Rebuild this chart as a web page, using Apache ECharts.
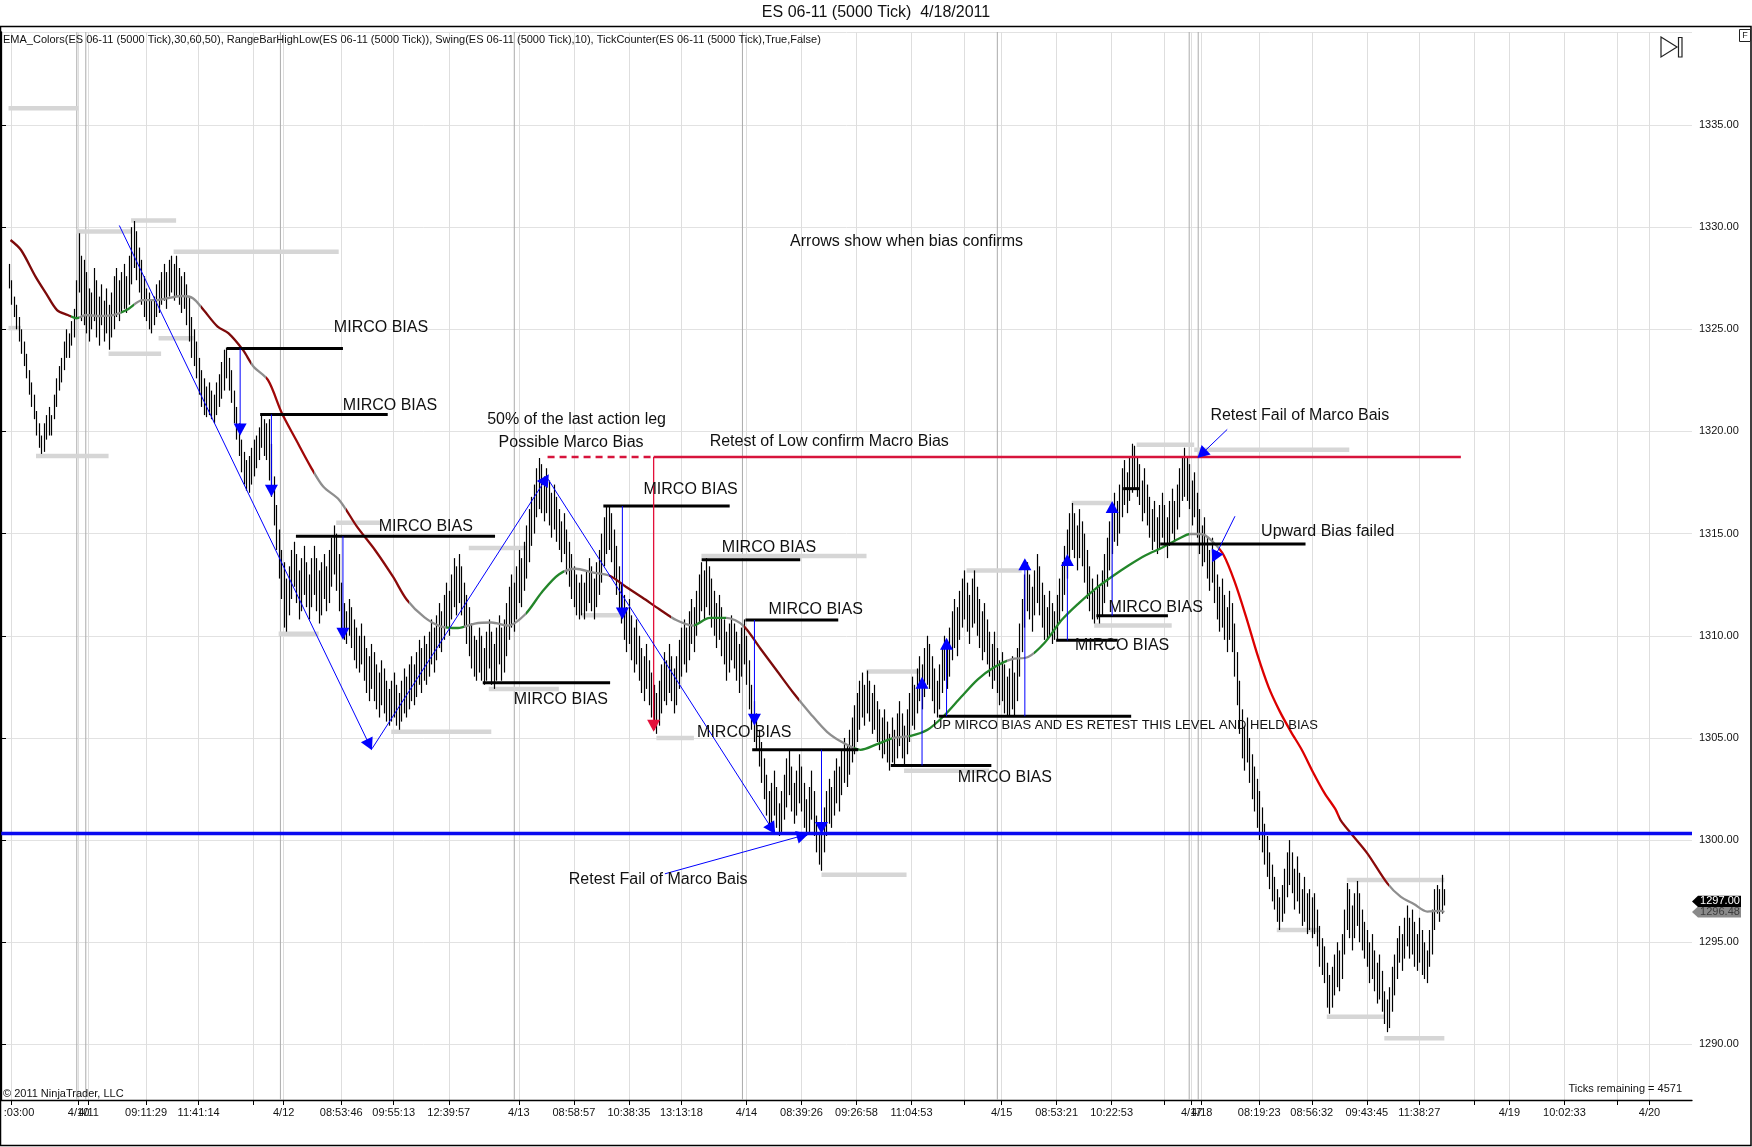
<!DOCTYPE html>
<html><head><meta charset="utf-8">
<script src="https://cdn.jsdelivr.net/npm/echarts@6/dist/echarts.min.js"></script>
<style>html,body{margin:0;padding:0;background:#fff}#c{width:1752px;height:1147px}</style>
</head><body><div id="c"></div>
<script>
const FONT = '"Liberation Sans", Arial, sans-serif';
const slotCount = 677;
const firstSlot = 3;
const yMin = 1287.28, yMax = 1339.55;
const lastClose = 1297.00;

const tickSlots = [4,31,35,58,79,101,113,136,157,179,207,229,251,272,298,320,342,364,385,400,422,444,465,476,480,503,524,546,567,589,603,625,646,659];
const tickLabels = [':03:00','4/10','4/11','09:11:29','11:41:14','','4/12','08:53:46','09:55:13','12:39:57','4/13','08:58:57','10:38:35','13:13:18','4/14','08:39:26','09:26:58','11:04:53','','4/15','08:53:21','10:22:53','','4/17','4/18','08:19:23','08:56:32','09:43:45','11:38:27','','4/19','10:02:33','','4/20'];
const sessionSlots = [30.3,33.9,111.7,205.2,296.4,398.3,475,478.6];

const highs = [
1328.2,1327.4,1326.6,1326.2,1325.6,1325.0,1324.4,1323.8,1323.0,1322.4,
1321.8,1321.0,1320.4,1319.8,1320.4,1320.8,1321.2,1320.8,1321.8,1322.6,
1323.2,1323.6,1324.4,1325.0,1324.8,1325.4,1326.0,1327.4,1329.7,1328.6,
1328.4,1327.8,1327.0,1326.8,1328.0,1327.4,1326.6,1327.2,1326.4,1327.0,
1326.2,1326.8,1327.6,1328.0,1327.4,1327.8,1328.2,1327.6,1328.6,1330.0,
1330.3,1329.8,1329.0,1328.4,1327.6,1327.0,1326.8,1326.4,1326.6,1327.2,
1327.4,1327.8,1328.2,1327.8,1328.4,1328.6,1328.2,1328.6,1328.0,1327.6,
1327.8,1327.2,1326.6,1325.6,1325.0,1324.4,1323.6,1323.0,1322.6,1322.2,
1322.4,1322.0,1321.8,1322.4,1322.8,1323.4,1324.0,1324.1,1323.6,1323.0,
1322.0,1321.2,1320.4,1319.6,1319.0,1318.6,1318.8,1319.2,1319.6,1319.8,
1320.2,1320.8,1320.6,1320.4,1320.6,1319.4,1317.8,1316.4,1315.2,1314.2,
1313.6,1312.8,1313.4,1314.2,1314.6,1314.0,1313.2,1313.8,1314.4,1313.6,
1313.0,1313.8,1314.4,1313.8,1313.2,1313.6,1314.0,1313.4,1314.2,1314.8,
1315.4,1315.0,1314.0,1312.6,1311.6,1311.2,1311.8,1311.4,1310.8,1310.4,
1310.0,1310.6,1310.0,1309.4,1309.0,1309.6,1309.2,1308.6,1308.2,1308.8,
1308.4,1307.8,1307.4,1307.8,1308.2,1307.6,1307.2,1307.8,1308.4,1308.0,
1308.6,1309.0,1308.6,1309.2,1309.8,1309.4,1310.0,1309.6,1310.2,1310.8,
1310.4,1311.0,1311.6,1311.2,1312.0,1312.6,1312.2,1313.0,1313.8,1313.4,
1314.0,1313.4,1312.6,1312.0,1311.4,1310.6,1310.0,1309.8,1310.4,1310.0,
1309.4,1310.2,1310.8,1310.2,1309.6,1310.4,1311.0,1310.4,1310.8,1311.6,
1312.4,1313.0,1312.6,1313.4,1314.2,1313.8,1314.6,1315.4,1316.2,1316.8,
1317.4,1318.2,1318.7,1318.4,1317.8,1318.2,1317.6,1317.0,1317.4,1316.8,
1316.2,1315.6,1316.0,1315.2,1314.6,1314.0,1313.4,1313.0,1312.6,1313.0,
1312.6,1313.2,1313.8,1313.4,1312.8,1313.6,1314.2,1315.0,1315.8,1316.3,
1316.4,1316.0,1315.2,1314.4,1313.4,1312.6,1312.0,1311.4,1311.8,1311.0,
1310.4,1310.8,1310.0,1309.4,1309.0,1309.6,1308.8,1308.2,1307.6,1307.2,
1307.8,1308.6,1309.2,1308.8,1309.6,1309.0,1308.4,1309.0,1309.8,1310.4,
1310.8,1310.4,1311.2,1311.8,1311.4,1312.2,1313.0,1313.6,1313.2,1313.8,
1313.4,1312.8,1312.2,1311.6,1312.0,1311.4,1310.8,1310.2,1310.6,1311.0,
1310.6,1310.2,1309.6,1310.4,1310.8,1310.0,1308.8,1307.6,1306.8,1306.2,
1305.4,1304.8,1304.0,1303.2,1302.4,1302.8,1303.4,1302.6,1301.8,1302.4,
1303.2,1304.0,1304.4,1303.6,1302.8,1303.4,1304.2,1303.6,1302.8,1302.0,
1302.6,1303.4,1302.4,1301.2,1300.4,1300.8,1301.6,1302.4,1303.0,1302.6,
1303.4,1304.0,1303.6,1304.4,1305.0,1304.6,1305.4,1306.0,1306.6,1307.2,
1307.8,1308.2,1307.6,1308.3,1307.8,1307.2,1307.6,1306.8,1306.4,1306.0,
1306.4,1305.8,1305.2,1306.0,1305.4,1306.2,1306.8,1306.2,1305.6,1306.4,
1307.2,1308.0,1307.6,1308.4,1309.0,1308.6,1309.4,1310.0,1309.6,1309.0,
1308.4,1307.8,1308.6,1309.4,1310.0,1309.6,1310.4,1311.2,1311.8,1311.4,
1312.2,1312.8,1313.2,1312.6,1312.0,1312.8,1313.2,1312.4,1311.8,1311.2,
1311.6,1310.8,1310.2,1309.6,1310.2,1309.4,1308.8,1309.2,1308.6,1308.0,
1308.4,1309.0,1308.2,1309.4,1310.6,1311.8,1313.0,1313.6,1313.0,1312.4,
1313.2,1314.0,1313.4,1312.6,1312.0,1311.4,1312.2,1311.6,1311.2,1312.0,
1312.8,1313.6,1314.4,1315.2,1316.0,1316.5,1316.0,1315.4,1316.2,1315.6,
1315.0,1314.2,1313.4,1312.8,1312.2,1313.0,1312.4,1313.2,1314.0,1314.8,
1315.6,1316.4,1317.0,1316.6,1317.4,1318.2,1318.6,1318.0,1318.8,1319.4,
1319.3,1318.8,1318.4,1317.6,1318.2,1317.4,1316.8,1316.2,1316.6,1315.8,
1316.4,1317.0,1316.4,1315.8,1316.6,1317.2,1316.6,1317.4,1318.2,1318.8,
1319.2,1318.8,1318.4,1317.6,1318.0,1317.0,1316.2,1315.4,1315.8,1314.8,
1314.2,1314.8,1313.8,1313.0,1312.4,1312.8,1312.0,1311.4,1312.2,1311.6,
1310.6,1309.2,1307.8,1306.4,1305.6,1306.0,1305.0,1304.2,1303.6,1303.0,
1302.4,1301.6,1300.8,1300.2,1299.4,1298.8,1298.2,1297.6,1297.2,1297.8,
1298.6,1299.4,1300.0,1299.4,1298.6,1299.2,1298.4,1297.6,1298.2,1297.4,
1297.6,1297.2,1297.4,1296.6,1295.8,1295.2,1294.8,1294.0,1293.4,1293.8,
1294.4,1295.0,1294.6,1295.4,1296.6,1297.9,1297.6,1296.8,1297.4,1298.0,
1297.4,1296.6,1296.0,1295.6,1295.0,1295.4,1294.6,1294.0,1294.4,1293.6,
1292.6,1292.2,1292.8,1293.8,1294.4,1295.2,1295.8,1295.4,1296.2,1296.8,
1296.2,1296.6,1296.0,1295.4,1296.2,1295.6,1295.0,1294.6,1295.6,1296.6,
1297.6,1297.8,1297.6,1298.3,1297.6];
const lows = [
1327.0,1326.2,1325.6,1325.0,1324.4,1323.8,1323.2,1322.6,1321.8,1321.2,
1320.6,1319.8,1319.2,1318.9,1319.0,1319.6,1319.8,1319.8,1320.6,1321.2,
1322.0,1322.4,1323.0,1323.6,1323.6,1324.2,1324.6,1325.6,1326.8,1325.4,
1325.2,1324.8,1324.4,1325.0,1325.4,1324.6,1324.2,1325.2,1324.4,1324.8,
1324.0,1324.6,1325.0,1325.6,1325.4,1325.8,1326.0,1325.8,1326.2,1327.2,
1328.0,1327.4,1326.8,1326.2,1325.6,1325.4,1325.0,1324.8,1325.2,1325.6,
1325.8,1326.2,1326.4,1326.0,1326.6,1326.8,1326.4,1326.6,1326.2,1325.8,
1326.0,1325.2,1324.4,1323.6,1323.2,1322.6,1321.8,1321.2,1320.8,1320.7,
1320.8,1320.6,1320.4,1320.8,1321.2,1321.6,1322.0,1322.6,1322.0,1321.4,
1320.4,1319.6,1318.8,1318.0,1317.4,1317.1,1317.0,1317.4,1317.8,1318.2,
1318.6,1319.2,1318.8,1318.6,1317.6,1316.8,1315.4,1314.2,1312.8,1311.8,
1310.4,1310.2,1311.0,1311.8,1312.4,1311.6,1310.8,1311.2,1312.0,1311.4,
1310.8,1311.4,1312.0,1311.2,1310.6,1311.0,1311.8,1311.2,1311.6,1312.4,
1313.0,1312.2,1311.2,1310.2,1309.8,1309.6,1310.0,1309.4,1308.8,1308.4,
1308.2,1308.6,1307.8,1307.2,1306.8,1307.4,1306.8,1306.4,1306.0,1306.6,
1306.2,1305.8,1305.6,1305.8,1306.0,1305.6,1305.4,1305.8,1306.2,1306.0,
1306.4,1306.8,1306.6,1307.0,1307.6,1307.2,1307.8,1307.6,1308.0,1308.6,
1308.2,1308.8,1309.4,1309.2,1309.8,1310.4,1310.0,1310.8,1311.4,1311.0,
1311.6,1311.0,1310.4,1309.6,1309.0,1308.4,1308.0,1307.8,1308.2,1307.8,
1307.6,1307.8,1308.4,1307.6,1307.4,1307.8,1308.6,1307.8,1308.2,1309.0,
1309.8,1310.4,1310.2,1310.8,1311.6,1311.4,1312.2,1312.8,1313.6,1314.4,
1315.0,1315.8,1316.2,1316.0,1315.6,1316.0,1315.4,1314.8,1315.2,1314.6,
1314.2,1313.6,1314.0,1313.0,1312.4,1311.8,1311.4,1311.0,1310.8,1311.0,
1310.8,1311.2,1311.6,1311.2,1310.8,1311.4,1312.0,1312.6,1313.4,1314.0,
1314.2,1313.6,1312.8,1312.0,1311.2,1310.6,1309.8,1309.2,1309.6,1308.8,
1308.2,1308.6,1307.8,1307.2,1306.8,1307.4,1306.6,1306.0,1305.4,1305.2,
1305.6,1306.2,1306.8,1306.6,1307.2,1306.8,1306.2,1306.6,1307.4,1308.0,
1308.6,1308.2,1308.8,1309.6,1309.2,1310.0,1310.6,1311.2,1310.8,1311.4,
1311.0,1310.4,1310.0,1309.4,1309.8,1309.0,1308.6,1307.8,1308.2,1308.8,
1308.4,1307.8,1307.2,1308.0,1308.6,1307.6,1306.4,1305.4,1304.8,1304.4,
1303.6,1302.8,1302.0,1301.2,1300.6,1300.8,1301.2,1300.6,1300.2,1300.4,
1301.0,1301.6,1302.2,1301.4,1300.8,1301.2,1301.8,1301.4,1300.6,1300.2,
1300.4,1301.0,1300.2,1299.4,1298.8,1298.5,1299.4,1300.2,1300.8,1300.6,
1301.2,1301.8,1301.4,1302.2,1302.8,1302.6,1303.2,1303.8,1304.2,1304.8,
1305.4,1306.0,1305.6,1306.2,1305.8,1305.2,1305.4,1304.8,1304.4,1304.0,
1304.2,1303.8,1303.4,1303.8,1303.6,1304.0,1304.6,1304.0,1303.6,1304.2,
1304.8,1305.6,1305.4,1306.2,1306.8,1306.4,1307.0,1307.6,1307.4,1306.8,
1306.2,1306.0,1306.4,1307.2,1307.8,1307.4,1308.0,1308.8,1309.4,1309.0,
1309.8,1310.4,1310.8,1310.2,1309.6,1310.4,1310.6,1310.0,1309.4,1308.8,
1309.2,1308.6,1308.0,1307.4,1307.8,1307.2,1306.6,1306.8,1306.2,1306.1,
1306.1,1306.4,1306.1,1306.8,1308.0,1309.2,1310.4,1311.2,1310.8,1310.2,
1311.0,1311.6,1311.0,1310.4,1309.8,1309.8,1310.0,1309.6,1309.8,1309.8,
1310.6,1311.2,1312.0,1312.8,1313.6,1314.2,1313.8,1313.2,1313.8,1313.4,
1312.6,1311.8,1311.2,1310.8,1310.6,1310.8,1310.6,1311.0,1311.6,1312.4,
1313.2,1314.0,1314.6,1314.4,1315.0,1315.8,1316.4,1316.0,1316.6,1317.0,
1317.2,1316.8,1316.4,1315.6,1316.0,1315.4,1314.8,1314.2,1314.6,1314.0,
1314.2,1314.8,1314.4,1313.8,1314.4,1315.0,1314.6,1315.2,1315.8,1316.6,
1316.8,1316.6,1316.2,1315.4,1315.8,1314.8,1314.0,1313.4,1313.6,1312.8,
1312.2,1312.6,1311.6,1310.8,1310.2,1310.4,1309.8,1309.2,1309.8,1309.2,
1308.0,1306.6,1305.2,1304.0,1303.4,1303.8,1302.8,1302.0,1301.4,1300.6,
1300.0,1299.4,1298.8,1298.2,1297.6,1297.0,1296.6,1296.0,1295.6,1296.0,
1296.4,1297.2,1297.8,1297.4,1296.6,1297.0,1296.4,1295.8,1296.0,1295.4,
1295.6,1295.2,1295.4,1294.8,1293.8,1293.4,1293.0,1291.8,1291.5,1291.8,
1292.4,1292.8,1292.6,1293.2,1294.4,1295.6,1295.2,1294.6,1295.2,1295.8,
1295.0,1294.6,1294.2,1293.8,1293.0,1293.2,1292.6,1292.0,1292.2,1291.6,
1291.0,1290.6,1290.8,1291.6,1292.4,1293.2,1294.0,1293.6,1294.2,1294.8,
1294.2,1294.4,1293.8,1293.6,1294.0,1293.4,1293.2,1293.0,1293.8,1294.4,
1295.6,1296.4,1296.0,1296.4,1296.8];

const emaSlots = [3.8,8,13.8,18,22.4,26.7,30.2,33.8,39.5,45.2,50.2,56.7,62.4,66.7,72.4,76.7,81,86.6,91,96.7,101,106.7,112.3,118,123.8,128.8,135.2,142.3,149.5,156.7,162.3,
169.3,176,182.7,189.4,196.1,202.8,209.5,216.2,223,229.7,236.4,243.1,249.8,256.5,263.2,269.9,276.6,283.3,290,296.7,303.4,310.1,316.8,323.5,330.2,336.9,343.6,350.3,357,363.7,
370.4,377.1,383.8,390.5,397.2,403.9,410.6,417.3,424,430.8,437.5,444.2,450.9,457.6,464.3,471,475.4,479.9,484.4,488.8,493.3,497.8,502.2,506.7,511.2,515.7,520.1,524.6,529.1,533.5,
535.5,540.2,546.2,554.2,559.5,564.8,570.2,575.5,577];
const emaValues = [1329.37,1328.88,1327.58,1326.76,1325.94,1325.7,1325.54,1325.7,1325.65,1325.7,1325.94,1326.43,1326.43,1326.52,1326.63,1326.52,1325.94,1325.13,1324.8,1323.99,1323.17,1322.52,1320.89,1319.58,1318.27,1317.3,1316.65,1315.34,1314.2,1312.89,1311.75,
1310.9,1310.45,1310.38,1310.6,1310.65,1310.5,1311.04,1312.13,1313.0,1313.28,1313.1,1312.95,1312.4,1311.86,1311.3,1310.77,1310.5,1310.88,1310.88,1310.5,1309.4,1308.3,1307.2,1306.2,1305.3,1304.75,1304.42,1304.7,1305.0,1305.1,
1305.4,1306.1,1307.0,1307.87,1308.47,1308.85,1308.96,1309.67,1310.77,1311.59,1312.3,1312.9,1313.45,1313.94,1314.32,1314.76,1314.98,1314.98,1314.6,1313.94,1312.6,1310.9,1309.1,1307.5,1306.3,1305.3,1304.4,1303.3,1302.3,1301.5,
1300.98,1300.25,1299.35,1297.88,1297.23,1296.87,1296.5,1296.54,1296.48];
const emaColorStarts = [3,28,31,48,53,80,100,106,125,138,163,178,185,210,225,243,268,277,290,297,319,341,356,363,402,413,475,487,535,555];
const emaColors = ['#7d0a0a','#23862a','#8e8e8e','#23862a','#8e8e8e','#7d0a0a','#8e8e8e','#a00808','#8e8e8e','#8b0a0a','#8e8e8e','#23862a','#8e8e8e','#23862a','#8e8e8e','#7d0a0a','#8e8e8e','#23862a','#8e8e8e','#7d0a0a','#8e8e8e','#23862a','#8e8e8e','#23862a','#8e8e8e','#23862a','#8e8e8e','#dc0000','#8b0a0a','#8e8e8e'];

const swings = [[3,31,1335.82],[3,8,1325.06],[14,43,1318.8],[30,52,1329.78],[52,70,1330.32],[69,135,1328.8],[43,64,1323.8],[63,77,1324.56],[134,152,1315.53],[111,127,1310.1],[156,196,1305.3],[187,210,1314.3],[195,223,1307.4],[232,250,1311.0],[262,277,1305.0],[280,346,1313.9],[328,362,1298.3],[346,367,1308.25],[361,395,1303.4],[386,408,1313.2],[428,444,1316.5],[437,468,1310.5],[454,477,1319.35],[477,539,1319.1],[510,527,1295.6],[530,553,1291.35],[538,577,1298.05],[553,577,1290.3]];

const blackLines = [[90.2,136.7,1324.06],[103.6,154.6,1320.83],[117.9,197.5,1314.87],[192.6,243.5,1307.7],[240.8,291.3,1316.35],[280.1,319.5,1313.72],[297.6,334.7,1310.77],[300.3,342.7,1304.42],[355.7,395.9,1303.65],[374.9,451.8,1306.06],[421.8,446.4,1309.78],[437.9,466.5,1310.98],[448.6,455.3,1317.2],[463.4,521.5,1314.49]];

const blueArrows = [[47.3,1330.08,148.3,1304.4],[148.3,1304.47,219,1317.9],[218.5,1317.7,309.5,1300.3],[265.4,1298.35,322.8,1300.3],[490.2,1320.1,478.3,1318.7],[493.3,1315.85,484.2,1313.6],
[95.6,1324.06,95.6,1319.8],[108.1,1320.83,108.1,1316.8],[136.7,1314.87,136.7,1309.8],[248.4,1316.35,248.4,1310.8],[301.2,1310.77,301.2,1305.6],[328.0,1304.42,328.0,1300.3],
[368.2,1303.65,368.2,1308.0],[378,1306.06,378,1309.9],[409.3,1306.06,409.3,1313.8],[426.3,1309.78,426.3,1314.0],[444.2,1310.98,444.2,1316.6]];

const redArrow = [[260.9,1318.75,260.9,1305.3]];
const redLine = [[260.9,1318.75,583.6,1318.75]];
const redDashed = [[218.5,1318.75,260.9,1318.75]];
const blueLevel = [[0,1300.32,676,1300.32]];

const noteTexts = ['Arrows show when bias confirms','MIRCO BIAS','MIRCO BIAS','MIRCO BIAS','50% of the last action leg','Possible Marco Bias','Retest of Low confirm Macro Bias','MIRCO BIAS','MIRCO BIAS','MIRCO BIAS','MIRCO BIAS','MIRCO BIAS','Retest Fail of Marco Bais','UP MIRCO BIAS AND ES RETEST THIS LEVEL AND HELD BIAS','MIRCO BIAS','MIRCO BIAS','MIRCO BIAS','Retest Fail of Marco Bais','Upward Bias failed'];
const noteSlots = [362,151.9,155.5,169.8,230.1,227.9,331.1,275.7,307,325.7,223.8,297.1,262.7,449.5,401.3,461.6,448.2,519.2,530.4];
const notePrices = [1329.3,1325.1,1321.27,1315.36,1320.6,1319.46,1319.5,1317.17,1314.32,1311.3,1306.88,1305.24,1298.07,1305.62,1303.05,1311.37,1309.5,1320.78,1315.1];
const noteSizes = [16,16,16,16,16,16,16,16,16,16,16,16,16,13,16,16,16,16,16];

// ---------- build ----------
const cats = Array.from({length: slotCount}, (_, i) => String(i));
const labelMap = {}; tickSlots.forEach((s, i) => { labelMap[s] = tickLabels[i]; });
const tickSet = new Set(tickSlots);
const barData = highs.map((h, i) => [firstSlot + i, h, lows[i]]);
const emaPts = emaSlots.map((s, i) => [s, emaValues[i]]);
const pieces = emaColorStarts.map((s, i) => ({gte: s, lt: (i + 1 < emaColorStarts.length ? emaColorStarts[i + 1] : 1000), color: emaColors[i]}));

function arrowPts(a, b, len, half) {
  const dx = b[0] - a[0], dy = b[1] - a[1], d = Math.hypot(dx, dy) || 1;
  const ux = dx / d, uy = dy / d, bx = b[0] - ux * len, by = b[1] - uy * len;
  return [[b[0], b[1]], [bx - uy * half, by + ux * half], [bx + uy * half, by - ux * half]];
}
function segSeries(name, segs, color, width, arrow, dash, z) {
  return {
    type: 'custom', name, xAxisIndex: 1, yAxisIndex: 0, z, silent: true, animation: false,
    data: segs, encode: {x: [0, 2], y: [1, 3]},
    renderItem(params, api) {
      const a = api.coord([api.value(0), api.value(1)]), b = api.coord([api.value(2), api.value(3)]);
      let end = b;
      if (arrow) {
        const dx = b[0] - a[0], dy = b[1] - a[1], d = Math.hypot(dx, dy) || 1;
        end = [b[0] - dx / d * 8, b[1] - dy / d * 8];
      }
      const st = {stroke: color, lineWidth: width};
      if (dash) st.lineDash = dash;
      const ch = [{type: 'line', shape: {x1: a[0], y1: a[1], x2: end[0], y2: end[1]}, style: st}];
      if (arrow) ch.push({type: 'polygon', shape: {points: arrowPts(a, b, 12, 6.5)}, style: {fill: color}});
      return {type: 'group', children: ch};
    }
  };
}

const chart = echarts.init(document.getElementById('c'), null, {renderer: 'canvas'});
const option = {
  animation: false,
  backgroundColor: '#ffffff',
  grid: {left: 1, right: 60, top: 32, bottom: 47, containLabel: false, outerBoundsMode: 'none'},
  xAxis: [{
    type: 'category', data: cats, boundaryGap: false, position: 'bottom',
    axisLine: {show: true, lineStyle: {color: '#000', width: 1.3}},
    axisTick: {show: true, length: 5, interval: (i) => tickSet.has(i), lineStyle: {color: '#000'}},
    axisLabel: {show: true, interval: (i) => tickSet.has(i),
      formatter: (v, i) => i === tickSlots[0] ? '{first|' + labelMap[i] + '}' : (labelMap[i] || ''),
      rich: {first: {padding: [0, 0, 0, 16], fontSize: 11, fontFamily: FONT, color: '#111'}},
      color: '#111', fontSize: 11, fontFamily: FONT, margin: 7},
    splitLine: {show: true, interval: (i) => tickSet.has(i), lineStyle: {color: '#dedede', width: 1}}
  }, {
    type: 'value', min: 0, max: slotCount - 1, show: false
  }],
  yAxis: {
    type: 'value', position: 'right', min: yMin, max: yMax, splitNumber: 10,
    axisLine: {show: true, lineStyle: {color: '#000', width: 1.3}},
    axisTick: {show: true, length: 5, lineStyle: {color: '#000'}},
    axisLabel: {show: true, margin: 7, color: '#111', fontSize: 11, fontFamily: FONT, showMinLabel: false, showMaxLabel: false,
      formatter: (v) => Math.abs(v / 5 - Math.round(v / 5)) < 1e-6 ? v.toFixed(2) : ''},
    splitLine: {show: true, lineStyle: {color: '#e2e2e2', width: 1}}
  },
  visualMap: {type: 'piecewise', show: false, dimension: 0, seriesIndex: 3, pieces: pieces},
  series: [
    segSeries('sessions', sessionSlots.map(s => [s, yMin, s, yMax]), '#ababab', 1, false, null, 1),
    {
      type: 'custom', name: 'swings', xAxisIndex: 1, z: 2, silent: true, animation: false,
      data: swings, encode: {x: [0, 1], y: 2},
      renderItem(params, api) {
        const a = api.coord([api.value(0), api.value(2)]), b = api.coord([api.value(1), api.value(2)]);
        return {type: 'line', shape: {x1: a[0], y1: a[1], x2: b[0], y2: b[1]}, style: {stroke: '#d6d6d6', lineWidth: 4.5}};
      }
    },
    {
      type: 'custom', name: 'bars', xAxisIndex: 1, z: 3, silent: true, animation: false,
      data: barData, encode: {x: 0, y: [1, 2]},
      renderItem(params, api) {
        const a = api.coord([api.value(0), api.value(1)]), b = api.coord([api.value(0), api.value(2)]);
        const x = Math.round(a[0]) + 0.5;
        return {type: 'line', shape: {x1: x, y1: a[1], x2: x, y2: b[1]}, style: {stroke: '#000', lineWidth: 1.2}};
      }
    },
    {
      type: 'line', name: 'EMA', xAxisIndex: 1, data: emaPts, smooth: 0.3, symbol: 'none', z: 4,
      lineStyle: {width: 2.3}, silent: true, animation: false
    },
    segSeries('blackLines', blackLines.map(l => [l[0], l[2], l[1], l[2]]), '#000', 3, false, null, 5),
    segSeries('blueLevel', blueLevel, '#0a0af0', 3.4, false, null, 5),
    segSeries('redLine', redLine, '#d7143c', 2.3, false, null, 5),
    segSeries('redDashed', redDashed, '#d7143c', 2.3, false, [7, 5], 5),
    segSeries('redArrow', redArrow, '#e3103a', 1.3, true, null, 6),
    segSeries('blueArrows', blueArrows, '#0000ff', 1, true, null, 6),
    {
      type: 'custom', name: 'notes', xAxisIndex: 1, z: 7, silent: true, animation: false,
      data: noteSlots.map((s, i) => [s, notePrices[i]]), encode: {x: 0, y: 1},
      renderItem(params, api) {
        const p = api.coord([api.value(0), api.value(1)]);
        const i = params.dataIndex;
        return {type: 'text', x: p[0], y: p[1], style: {text: noteTexts[i], fontSize: noteSizes[i], fontFamily: FONT, fill: '#111', align: 'center', verticalAlign: 'middle'}};
      }
    }
  ]
};
chart.setOption(option);

const axisX = chart.convertToPixel({xAxisIndex: 1}, slotCount - 1);
const yA = chart.convertToPixel({yAxisIndex: 0}, lastClose);
const yB = chart.convertToPixel({yAxisIndex: 0}, emaValues[emaValues.length - 1]);
function tag(y, fill, txtColor, txt) {
  return [
    {type: 'polygon', z: 50, shape: {points: [[axisX, y], [axisX + 6, y - 5.6], [axisX + 49, y - 5.6], [axisX + 49, y + 5.6], [axisX + 6, y + 5.6]]}, style: {fill: fill}},
    {type: 'text', z: 51, x: axisX + 28, y: y, style: {text: txt, fill: txtColor, fontSize: 11, fontFamily: FONT, align: 'center', verticalAlign: 'middle'}}
  ];
}
chart.setOption({
  graphic: [
    {type: 'text', left: 'center', top: 5, style: {text: 'ES 06-11 (5000 Tick)  4/18/2011', fontSize: 16, fontFamily: FONT, fill: '#111'}},
    {type: 'rect', z: 40, shape: {x: 0.5, y: 26.5, width: 1750.5, height: 1119}, style: {fill: 'none', stroke: '#000', lineWidth: 1.5}},
    {type: 'text', z: 40, x: 3, y: 40, style: {text: 'EMA_Colors(ES 06-11 (5000 Tick),30,60,50), RangeBarHighLow(ES 06-11 (5000 Tick)), Swing(ES 06-11 (5000 Tick),10), TickCounter(ES 06-11 (5000 Tick),True,False)', fontSize: 11, fontFamily: FONT, fill: '#111', verticalAlign: 'middle'}},
    {type: 'text', z: 40, x: 3, y: 1094, style: {text: '\u00a9 2011 NinjaTrader, LLC', fontSize: 11, fontFamily: FONT, fill: '#111', verticalAlign: 'middle'}},
    {type: 'text', z: 40, x: 1682, y: 1089, style: {text: 'Ticks remaining = 4571', fontSize: 11, fontFamily: FONT, fill: '#111', align: 'right', verticalAlign: 'middle'}},
    {type: 'polygon', z: 40, shape: {points: [[1661, 37], [1677, 47], [1661, 57]]}, style: {fill: 'none', stroke: '#222', lineWidth: 1.2}},
    {type: 'rect', z: 40, shape: {x: 1678.5, y: 37.5, width: 3.5, height: 19.5}, style: {fill: 'none', stroke: '#222', lineWidth: 1.2}},
    {type: 'rect', z: 40, shape: {x: 1739.5, y: 29.5, width: 11, height: 12}, style: {fill: '#fff', stroke: '#222', lineWidth: 1}},
    {type: 'text', z: 41, x: 1745, y: 36, style: {text: 'F', fontSize: 9, fontFamily: FONT, fill: '#222', align: 'center', verticalAlign: 'middle'}},
    ...tag(yB, '#8a8a8a', '#3c3c3c', emaValues[emaValues.length - 1].toFixed(2)),
    ...tag(yA, '#000000', '#ffffff', lastClose.toFixed(2))
  ]
});
</script>
</body></html>
